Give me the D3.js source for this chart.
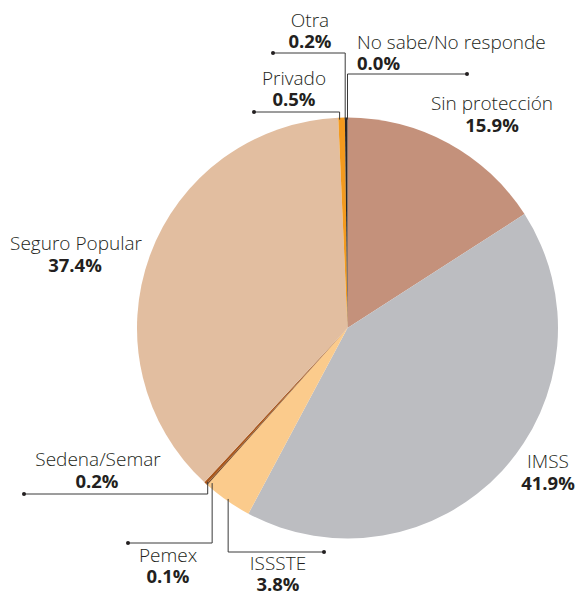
<!DOCTYPE html>
<html>
<head>
<meta charset="utf-8">
<script src="https://cdn.jsdelivr.net/npm/d3@7"></script>
<style>
  html, body { margin: 0; padding: 0; background: #fff; }
  svg { display: block; }
  .lbl { font-family: "Open Sans", sans-serif; fill: #231f20; }
  .name { font-weight: 300; font-size: 19px; }
  .pct { font-weight: 700; font-size: 18.5px; }
</style>
</head>
<body>
<svg id="chart" width="582" height="595"></svg>
<script>
// ---- data ----
const categories = ["Sin protección", "IMSS", "ISSSTE", "Pemex", "Sedena/Semar", "Seguro Popular", "Privado", "Otra", "No sabe/No responde"];
const values = [15.9, 41.9, 3.8, 0.1, 0.2, 37.4, 0.5, 0.2, 0.0];
const colors = ["#c4917b", "#bcbdc1", "#fbcb8c", "#7a4a22", "#a8561c", "#e2bea0", "#f39a1e", "#2a2627", "#000000"];

// ---- label layout (annotation placement, not data) ----
const labelLayout = [
  { anchor: "middle", nx: 492, ny: 110, px: 492, py: 132, leader: null },
  { anchor: "middle", nx: 548, ny: 468, px: 548, py: 490, leader: null },
  { anchor: "middle", nx: 278, ny: 570, px: 278, py: 591, leader: { y: 552, x: 324, dx: 0 } },
  { anchor: "middle", nx: 168, ny: 562, px: 168, py: 583, leader: { y: 543, x: 128, dx: 4 } },
  { anchor: "middle", nx: 98,  ny: 466, px: 97,  py: 488, leader: { y: 494, x: 24, dx: 1 } },
  { anchor: "middle", nx: 76,  ny: 250, px: 75,  py: 272, leader: null },
  { anchor: "middle", nx: 294, ny: 85,  px: 294, py: 106, leader: { y: 112, x: 254, dx: -2 } },
  { anchor: "middle", nx: 310, ny: 27,  px: 310, py: 48,  leader: { y: 53, x: 273, dx: -1 } },
  { anchor: "start",  nx: 357, ny: 49,  px: 357, py: 70,  leader: { y: 74, x: 467, dx: 0 } }
];

const cx = 347.5, cy = 328, R = 210.5;
const svg = d3.select("#chart");
const fmt = d3.format(".1f");

const pie = d3.pie().sort(null).value(d => d.value);
const rows = categories.map((c, i) => ({ name: c, value: values[i], color: colors[i], layout: labelLayout[i] }));
const arcs = pie(rows);

const arc = d3.arc().innerRadius(0).outerRadius(R);
const edge = d3.arc().innerRadius(R - 2).outerRadius(R - 2);

const g = svg.append("g").attr("transform", `translate(${cx},${cy})`);
g.selectAll("path.slice")
  .data(arcs)
  .join("path")
  .attr("class", "slice")
  .attr("d", arc)
  .attr("fill", d => d.data.color);

// leaders
const lg = svg.append("g");
arcs.forEach(d => {
  const L = d.data.layout.leader;
  if (!L) return;
  const [ex, ey] = edge.centroid(d);
  const sx = cx + ex + L.dx, sy = cy + ey;
  const path = d3.path();
  path.moveTo(sx, sy);
  path.lineTo(sx, L.y);
  path.lineTo(L.x, L.y);
  lg.append("path").attr("d", path.toString())
    .attr("fill", "none").attr("stroke", "#3a3a3a").attr("stroke-width", 1);
  lg.append("circle").attr("cx", L.x).attr("cy", L.y).attr("r", 2).attr("fill", "#231f20");
});

// labels (one text element per slice, two lines)
const tg = svg.append("g");
arcs.forEach(d => {
  const lay = d.data.layout;
  const t = tg.append("text").attr("class", "lbl").attr("text-anchor", lay.anchor);
  t.append("tspan").attr("class", "name").attr("x", lay.nx).attr("y", lay.ny).text(d.data.name);
  t.append("tspan").attr("class", "pct").attr("x", lay.px).attr("y", lay.py).text(fmt(d.data.value) + "%");
});
</script>
</body>
</html>
